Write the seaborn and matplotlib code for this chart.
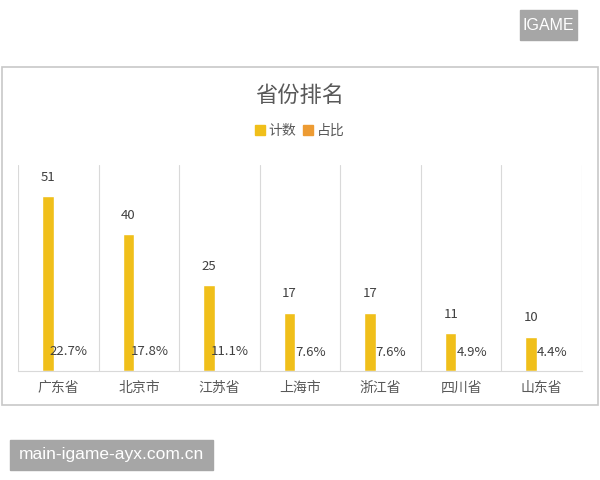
#import libraries
import pandas as pd
import numpy as np
import matplotlib
matplotlib.use("Agg")
import matplotlib.pyplot as plt
import matplotlib.patches as mpatches
import seaborn as sns

#data
provinces = ["广东省", "北京市", "江苏省", "上海市", "浙江省", "四川省", "山东省"]
counts = [51, 40, 25, 17, 17, 11, 10]
shares = [22.7, 17.8, 11.1, 7.6, 7.6, 4.9, 4.4]  # percent
series_names = ["计数", "占比"]
bar_colors = ["#F0BF1A", "#ED9B33"]

#long format for seaborn; 占比 is plotted on the same axis as a fraction
df = pd.DataFrame({
    "省份": provinces * 2,
    "系列": [series_names[0]] * len(provinces) + [series_names[1]] * len(provinces),
    "值": counts + [s / 100 for s in shares],
})

sns.set_theme(style="white")
plt.rcParams["font.family"] = ["Noto Sans CJK SC", "DejaVu Sans"]

fig = plt.figure(figsize=(6, 4.8), dpi=100)
ax = fig.add_axes([0.03, 0.227, 0.94, 0.429])

sns.barplot(data=df, x="省份", y="值", hue="系列", palette=bar_colors,
            width=0.52, gap=0.45, ax=ax, legend=False, saturation=1)

ax.set_xlim(-0.5, len(provinces) - 0.5)
ax.set_ylim(0, 60)
ax.set_xlabel("")
ax.set_ylabel("")
ax.set_yticks([])
ax.tick_params(axis="x", length=0, labelsize=10, labelcolor="#595959", pad=7)

#vertical separators between categories
ax.set_xticks(np.arange(-0.5, len(provinces)), minor=True)
ax.grid(False)
ax.grid(True, which="minor", axis="x", color="#D9D9D9", linewidth=0.8)
ax.tick_params(which="minor", length=0)
for side in ["top", "left", "right"]:
    ax.spines[side].set_visible(False)
ax.spines["bottom"].set_color("#D9D9D9")
ax.spines["bottom"].set_linewidth(0.8)

#data labels
count_bars = ax.containers[0]
share_bars = ax.containers[1]
for bar, c in zip(count_bars, counts):
    ax.annotate(str(c), (bar.get_x() + bar.get_width() / 2, bar.get_height()),
                xytext=(0, 13.5), textcoords="offset points",
                ha="center", va="center", fontsize=9.5, color="#404040")
for bar, s in zip(share_bars, shares):
    ax.annotate(f"{s}%", (bar.get_x() + bar.get_width() / 2, bar.get_height()),
                xytext=(0, 13.5), textcoords="offset points",
                ha="center", va="center", fontsize=9.5, color="#404040")

#title and legend
fig.text(0.5, 0.802, "省份排名", ha="center", va="center", fontsize=16, color="#595959")
handles = [mpatches.Patch(color=c, label=n) for c, n in zip(bar_colors, series_names)]
ax.legend(handles=handles, loc="center", bbox_to_anchor=(0.5, 0.727),
          bbox_transform=fig.transFigure, ncol=2, frameon=False,
          handlelength=0.7, handleheight=0.7, handletextpad=0.3,
          columnspacing=0.5, fontsize=10, labelcolor="#595959")

#chart border
fig.patches.append(mpatches.Rectangle((2 / 600, 1 - 405 / 480), 596 / 600, 338 / 480,
                                      transform=fig.transFigure, fill=False,
                                      edgecolor="#C8C8C8", linewidth=1.2))

#watermarks
fig.patches.append(mpatches.Rectangle((520 / 600, 1 - 40 / 480), 57 / 600, 30 / 480,
                                      transform=fig.transFigure, color="#A6A6A6"))
fig.text(548.5 / 600, 1 - 25 / 480, "IGAME", ha="center", va="center",
         fontsize=11.5, color="white", family="Liberation Sans")
fig.patches.append(mpatches.Rectangle((10 / 600, 1 - 470 / 480), 203 / 600, 30 / 480,
                                      transform=fig.transFigure, color="#A6A6A6"))
fig.text(111.5 / 600, 1 - 455 / 480, "main-igame-ayx.com.cn", ha="center", va="center",
         fontsize=12.5, color="white", family="Liberation Sans")

fig.savefig("out.png", dpi=100, facecolor="white")
